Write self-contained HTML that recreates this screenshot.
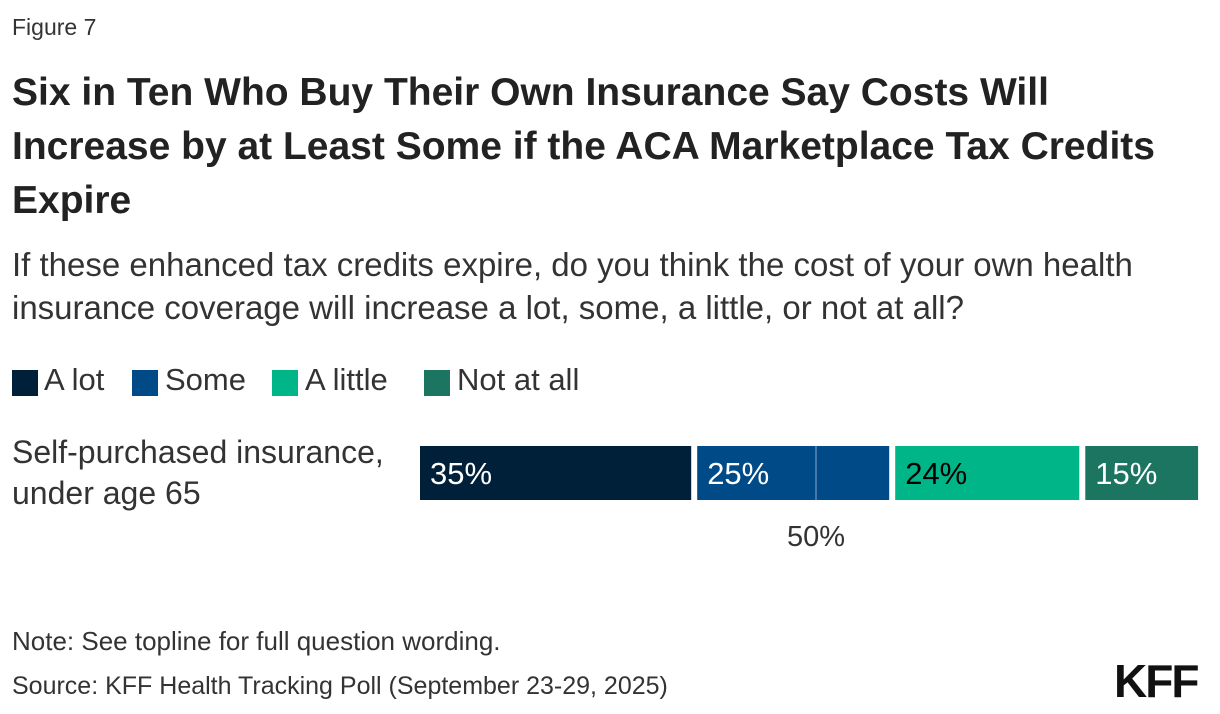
<!DOCTYPE html>
<html><head><meta charset="utf-8"><style>
body{margin:0;width:1220px;height:714px;background:#fff;font-family:"Liberation Sans",sans-serif;color:#222;position:relative;overflow:hidden}
.a{position:absolute;white-space:nowrap}
.sw{position:absolute;top:370px;width:26px;height:26px}
.lg{position:absolute;top:362px;font-size:31px;color:#333}
</style></head><body>
<div class="a" style="left:12px;top:14px;font-size:23px;color:#333">Figure 7</div>
<div class="a" style="left:12px;top:66px;font-size:39px;font-weight:bold;line-height:54px;color:#222">Six in Ten Who Buy Their Own Insurance Say Costs Will<br>Increase by at Least Some if the ACA Marketplace Tax Credits<br>Expire</div>
<div class="a" style="left:12px;top:243px;font-size:33px;line-height:43px;color:#333">If these enhanced tax credits expire, do you think the cost of your own health<br>insurance coverage will increase a lot, some, a little, or not at all?</div>
<div>
<div class="sw" style="left:12px;background:#002039"></div><div class="lg" style="left:44px">A lot</div>
<div class="sw" style="left:132px;background:#004a87"></div><div class="lg" style="left:165px">Some</div>
<div class="sw" style="left:272px;background:#00b587"></div><div class="lg" style="left:305px">A little</div>
<div class="sw" style="left:424px;background:#1c7561"></div><div class="lg" style="left:457px">Not at all</div>
</div>
<div class="a" style="left:12px;top:432px;font-size:32px;line-height:41px;color:#333">Self-purchased insurance,<br>under age 65</div>
<svg class="a" style="left:0;top:0" width="1220" height="714" id="chart"></svg>
<div class="a" style="left:12px;top:626px;font-size:26px;color:#333">Note: See topline for full question wording.</div>
<div class="a" style="left:12px;top:672px;font-size:25px;color:#333">Source: KFF Health Tracking Poll (September 23-29, 2025)</div>
<div class="a" style="left:1114px;top:654px;font-size:46px;font-weight:900;color:#111;letter-spacing:-2px">KFF</div>
<script>
const categories=["A lot","Some","A little","Not at all"];
const values=[35,25,24,15];
const colors=["#002039","#004a87","#00b587","#1c7561"];
const textColors=["#fff","#fff","#000","#fff"];
const refLine=50;
const svg=document.getElementById('chart');
const NS='http://www.w3.org/2000/svg';
const x0=420,k=7.92,y0=446,h=54,gap=6;
const x=v=>x0+v*k;
let cum=0;
values.forEach((v,i)=>{
  const r=document.createElementNS(NS,'rect');
  r.setAttribute('x',x(cum));r.setAttribute('y',y0);
  r.setAttribute('width',Math.max(0,v*k-gap));r.setAttribute('height',h);
  r.setAttribute('fill',colors[i]);
  
  
  svg.appendChild(r);
  const t=document.createElementNS(NS,'text');
  t.setAttribute('x',x(cum)+10);t.setAttribute('y',y0+38);
  t.setAttribute('fill',textColors[i]);t.setAttribute('font-size','31');
  t.setAttribute('font-family','Liberation Sans, sans-serif');
  t.textContent=v+'%';
  
  
  svg.appendChild(t);
  cum+=v;
});
const l=document.createElementNS(NS,'line');
l.setAttribute('x1',x(refLine));l.setAttribute('x2',x(refLine));
l.setAttribute('y1',y0);l.setAttribute('y2',y0+h);
l.setAttribute('stroke','#8aa6c8');l.setAttribute('stroke-width','1');


svg.appendChild(l);
const lt=document.createElementNS(NS,'text');
lt.setAttribute('x',x(refLine));lt.setAttribute('y',546);
lt.setAttribute('text-anchor','middle');lt.setAttribute('font-size','29');
lt.setAttribute('fill','#333');lt.setAttribute('font-family','Liberation Sans, sans-serif');
lt.textContent=refLine+'%';


svg.appendChild(lt);
</script>
</body></html>
